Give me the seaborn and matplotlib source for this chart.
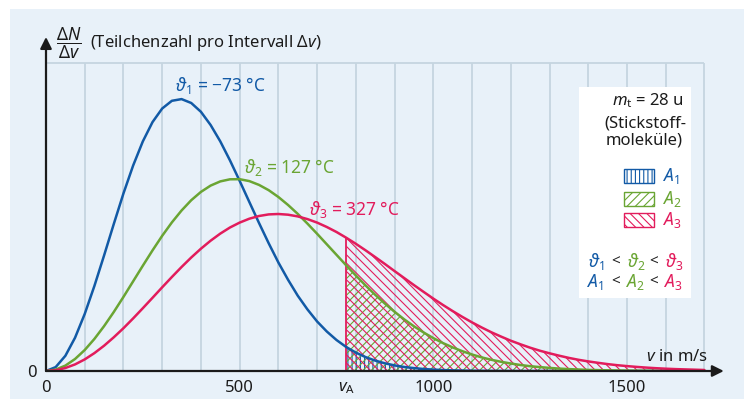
import numpy as np
import pandas as pd
import seaborn as sns
import matplotlib.pyplot as plt
from matplotlib.patches import Rectangle

# speed grid in m/s and curve heights (arbitrary units)
speed = [0, 25, 50, 75, 100, 125, 150, 175, 200, 225,
         250, 275, 300, 325, 350, 375, 400, 425, 450, 475,
         500, 525, 550, 575, 600, 625, 650, 675, 700, 725,
         750, 775, 800, 825, 850, 875, 900, 925, 950, 975,
         1000, 1025, 1050, 1075, 1100, 1125, 1150, 1175, 1200, 1225,
         1250, 1275, 1300, 1325, 1350, 1375, 1400, 1425, 1450, 1475,
         1500, 1525, 1550, 1575, 1600, 1625, 1650, 1675, 1700]
n_t1 = [0, 3.9, 15.2, 33.3, 57.1, 85.1, 115.6, 147, 177.6, 205.5,
        229.6, 248.9, 262.5, 270.2, 271.9, 268, 259.2, 246, 229.6, 210.6,
        190.1, 169, 148, 127.7, 108.5, 91.2, 75.3, 61.6, 49.5, 39.5,
        31, 24, 18.4, 13.9, 10.4, 7.7, 5.6, 4.0, 2.9, 2.0,
        1.4, 0.95, 0.65, 0.43, 0.29, 0.19, 0.12, 0.08, 0.05, 0,
        0, 0, 0, 0, 0, 0, 0, 0, 0, 0,
        0, 0, 0, 0, 0, 0, 0, 0, 0]
n_t2 = [0, 1.4, 5.4, 12.0, 21.0, 32.1, 44.9, 59.0, 74.1, 89.7,
        105.3, 120.6, 135.2, 148.6, 160.5, 170.8, 179.1, 185.4, 189.6, 191.7,
        191.8, 189.9, 186.1, 180.8, 174.0, 166.0, 157.1, 147.4, 137.2, 126.7,
        116.2, 105.7, 95.5, 85.6, 76.2, 67.4, 59.2, 51.6, 44.7, 38.5,
        32.9, 27.9, 23.6, 19.8, 16.5, 13.6, 11.2, 9.2, 7.5, 6.0,
        4.8, 3.9, 3.1, 2.4, 1.9, 1.5, 1.1, 0.9, 0.67, 0.5,
        0.39, 0.3, 0.22, 0.17, 0.12, 0.1, 0.07, 0.05, 0.04]
n_t3 = [0, 0.75, 3.0, 6.6, 11.6, 17.9, 25.3, 33.7, 42.8, 52.6,
        62.8, 73.2, 83.7, 94.0, 104.0, 113.5, 122.3, 130.3, 137.4, 143.5,
        148.4, 152.3, 155.0, 156.6, 157.0, 156.3, 154.6, 151.9, 148.4, 144.0,
        139.0, 133.3, 127.2, 120.7, 113.9, 107.0, 99.9, 92.9, 85.9, 79.1,
        72.4, 66.0, 59.9, 54.1, 48.6, 43.5, 38.7, 34.4, 30.3, 26.7,
        23.3, 20.3, 17.7, 15.3, 13.1, 11.2, 9.6, 8.2, 6.9, 5.8,
        4.9, 4.1, 3.4, 2.8, 2.3, 1.9, 1.6, 1.3, 1.0]
series = ['t1', 't2', 't3']

v_a = 775

x_ticks = [0, 500, v_a, 1000, 1500]
x_ticklabels = ['0', '500', r'$v_\mathrm{A}$', '1000', '1500']
grid_x = [100, 200, 300, 400, 500, 600, 700, 800, 900, 1000, 1100, 1200,
          1300, 1400, 1500, 1600, 1700]

BLUE = '#125aa6'
GREEN = '#6aa533'
RED = '#e21c5c'
BG = '#e8f1f9'
GRID = '#c5d5e0'
INK = '#1b1b1b'
colors = [BLUE, GREEN, RED]
hatches = ['||||', '////', '\\\\\\\\']

sns.set_style('white')
plt.rcParams['font.family'] = ['Noto Sans', 'DejaVu Sans']
plt.rcParams['mathtext.fontset'] = 'custom'
plt.rcParams['mathtext.rm'] = 'Noto Sans'
plt.rcParams['mathtext.it'] = 'Noto Sans:italic'
plt.rcParams['mathtext.fallback'] = 'stixsans'
plt.rcParams['hatch.linewidth'] = 0.8

W, H = 744, 399
fig = plt.figure(figsize=(7.44, 3.99), dpi=100)


def fx(x):
    return x / W


def fy(y):
    return 1 - y / H


fig.add_artist(Rectangle((fx(10), 0), 1 - fx(10), fy(9), transform=fig.transFigure,
                         facecolor=BG, edgecolor='none', zorder=-10))

ax = fig.add_axes([fx(46), fy(371), fx(723.8) - fx(46), fy(37) - fy(371)])
ax.patch.set_alpha(0)
ax.set_xlim(0, 1750)
ax.set_ylim(0, 334)

# grid
ax.vlines(grid_x, 0, 308, color=GRID, lw=1.3, zorder=0)
ax.hlines(308, 0, 1700, color=GRID, lw=1.3, zorder=0)

# hatched areas beyond v_A
speed_arr = np.array(speed)
mask = speed_arr >= v_a
for vals, col, hat in zip([n_t1, n_t2, n_t3], colors, hatches):
    ax.fill_between(speed_arr[mask], np.array(vals)[mask], 0, facecolor='none',
                    edgecolor=col, hatch=hat, lw=0, zorder=1)
ax.vlines(v_a, 0, n_t3[speed.index(v_a)], color=RED, lw=1.3, zorder=2)

# curves
df = pd.DataFrame({
    'v': speed * 3,
    'n': n_t1 + n_t2 + n_t3,
    'T': [s for s in series for _ in speed],
})
sns.lineplot(data=df, x='v', y='n', hue='T', palette=colors, estimator=None,
             lw=1.8, legend=False, ax=ax, zorder=3)

# axes with arrows
sns.despine(ax=ax, left=True, bottom=True)
arrow = dict(arrowstyle='-|>', color=INK, lw=1.6, mutation_scale=17,
             shrinkA=0, shrinkB=0)
ax.annotate('', xy=(1750, 0), xytext=(0, 0), arrowprops=arrow,
            annotation_clip=False, zorder=5)
ax.annotate('', xy=(0, 334), xytext=(0, 0), arrowprops=arrow,
            annotation_clip=False, zorder=5)

ax.set_xticks(x_ticks, x_ticklabels)
ax.set_yticks([0], ['0'])
ax.tick_params(axis='x', direction='out', length=4.5, width=1.5, color=INK,
               pad=2, labelsize=12, labelcolor=INK)
ax.tick_params(axis='y', direction='out', length=5, width=1.5, color=INK,
               pad=2, labelsize=12, labelcolor=INK)
ax.set_xlabel('')
ax.set_ylabel('')

# titles and labels
fig.text(fx(56), fy(43), r'$\dfrac{\Delta N}{\Delta v}$', fontsize=12.5,
         color=INK, va='center', ha='left')
fig.text(fx(90), fy(43), r'(Teilchenzahl pro Intervall $\Delta v$)', fontsize=12,
         color=INK, va='center', ha='left')
fig.text(fx(708), fy(357), r'$v$ in m/s', fontsize=12, color=INK,
         va='center', ha='right')

fig.text(fx(175), fy(86), r'$\vartheta_1$ = −73 °C', fontsize=12.5,
         color=BLUE, va='center', ha='left')
fig.text(fx(244), fy(167), r'$\vartheta_2$ = 127 °C', fontsize=12.5,
         color=GREEN, va='center', ha='left')
fig.text(fx(309), fy(209), r'$\vartheta_3$ = 327 °C', fontsize=12.5,
         color=RED, va='center', ha='left')

# info box
fig.add_artist(Rectangle((fx(579), fy(298)), fx(691) - fx(579), fy(87) - fy(298),
                         transform=fig.transFigure, facecolor='white',
                         edgecolor='none', zorder=4))
fig.text(fx(684), fy(101), r'$m_\mathrm{t}$ = 28 u', fontsize=12, color=INK,
         va='center', ha='right', zorder=5)
fig.text(fx(686), fy(123), '(Stickstoff-', fontsize=12, color=INK,
         va='center', ha='right', zorder=5)
fig.text(fx(683), fy(141), 'moleküle)', fontsize=12, color=INK,
         va='center', ha='right', zorder=5)

for i, (col, hat, yc) in enumerate(zip(colors, hatches, [176, 199, 220])):
    fig.add_artist(Rectangle((fx(624), fy(yc + 7)), fx(654) - fx(624), fy(yc - 7) - fy(yc + 7),
                             transform=fig.transFigure, facecolor='white',
                             edgecolor=col, hatch=hat, lw=1.0, zorder=5))
    fig.text(fx(663), fy(yc), rf'$A_{i + 1}$', fontsize=12.5, color=col,
             va='center', ha='left', zorder=5)

theta_x = [588, 627, 665]
area_x = [587, 626, 664]
for i, col in enumerate(colors):
    fig.text(fx(theta_x[i]), fy(262), rf'$\vartheta_{i + 1}$', fontsize=12.5,
             color=col, va='center', ha='left', zorder=5)
    fig.text(fx(area_x[i]), fy(282), rf'$A_{i + 1}$', fontsize=12.5,
             color=col, va='center', ha='left', zorder=5)
for xl in [611, 649]:
    fig.text(fx(xl), fy(262), '<', fontsize=11, color=INK, va='center',
             ha='left', zorder=5)
    fig.text(fx(xl), fy(282), '<', fontsize=11, color=INK, va='center',
             ha='left', zorder=5)

fig.savefig('out.png', dpi=100)
